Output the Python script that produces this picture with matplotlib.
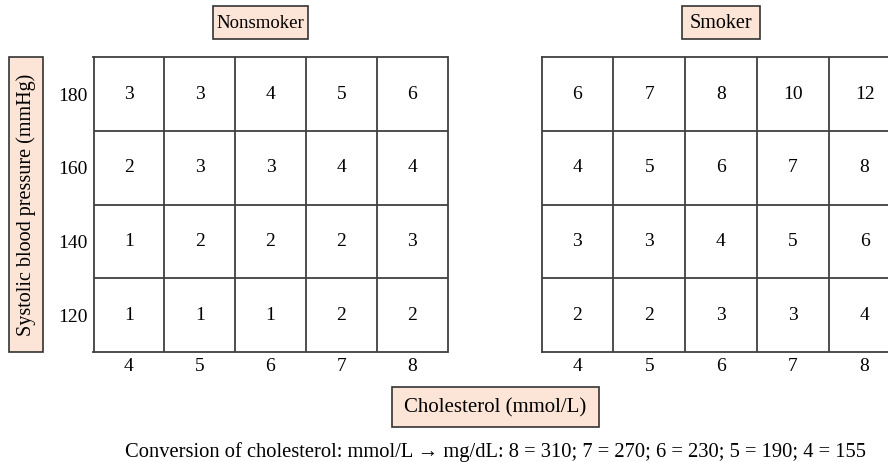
import matplotlib.pyplot as plt
from matplotlib.patches import Rectangle
import numpy as np

# Cholesterol (mmol/L) columns and systolic blood pressure (mmHg) rows
cholesterol = [4, 5, 6, 7, 8]
pressure = [120, 140, 160, 180]

# risk values, rows from 120 (bottom) to 180 (top)
nonsmoker = [[1, 1, 1, 2, 2],
             [1, 2, 2, 2, 3],
             [2, 3, 3, 4, 4],
             [3, 3, 4, 5, 6]]
smoker = [[2, 2, 3, 3, 4],
          [3, 3, 4, 5, 6],
          [4, 5, 6, 7, 8],
          [6, 7, 8, 10, 12]]

plt.rcParams['font.family'] = ['Liberation Serif', 'DejaVu Serif']

box_face = '#fce4d6'
box_edge = '#333333'
line_col = '#404040'
W, H = 888, 462

fig = plt.figure(figsize=(8.88, 4.62), dpi=100)
ax1 = fig.add_axes([93.5 / W, 1 - 352 / H, 354 / W, 294.5 / H])
ax2 = fig.add_axes([541.5 / W, 1 - 352 / H, 359 / W, 294.5 / H])


def draw_grid(ax, values, show_y):
    vals = np.array(values)
    ax.set_xlim(cholesterol[0] - 0.5, cholesterol[-1] + 0.5)
    ax.set_ylim(pressure[0] - 10, pressure[-1] + 10)
    ax.set_xticks(cholesterol)
    ax.set_yticks(pressure)
    # inner cell borders only, the spines draw the outside
    ax.set_xticks(np.arange(cholesterol[0] + 0.5, cholesterol[-1]), minor=True)
    ax.set_yticks(np.arange(pressure[0] + 10, pressure[-1], 20), minor=True)
    ax.grid(which='minor', color=line_col, linewidth=1.3)
    ax.tick_params(which='both', length=0, labelsize=14, pad=4)
    if not show_y:
        ax.set_yticklabels([])
    for s in ax.spines.values():
        s.set_color(line_col)
        s.set_linewidth(1.3)
    for i, p in enumerate(pressure):
        for j, c in enumerate(cholesterol):
            ax.text(c, p, str(vals[i, j]), ha='center', va='center', fontsize=14)


draw_grid(ax1, nonsmoker, True)
draw_grid(ax2, smoker, False)


def label_box(x0, y0, x1, y1, text, rotation=0, size=14.5):
    # box given in pixels from the top-left corner
    fig.add_artist(Rectangle((x0 / W, 1 - y1 / H), (x1 - x0) / W, (y1 - y0) / H,
                             transform=fig.transFigure, facecolor=box_face,
                             edgecolor=box_edge, linewidth=1.2))
    if rotation:
        fig.text((x0 + x1) / 2 / W, 1 - (y0 + y1) / 2 / H, text, rotation=rotation,
                 ha='center', va='center', fontsize=size)
    else:
        fig.text((x0 + x1) / 2 / W, 1 - ((y0 + y1) / 2 + 5.5) / H, text,
                 ha='center', va='baseline', fontsize=size)


label_box(213, 6, 308, 39, 'Nonsmoker', size=13.5)
label_box(682, 6, 760, 39, 'Smoker')
label_box(392, 387, 599, 427, 'Cholesterol (mmol/L)', size=15)
label_box(9, 57, 43, 352, 'Systolic blood pressure (mmHg)', rotation=90)

fig.text(495 / W, 1 - 452 / H,
         'Conversion of cholesterol: mmol/L \u2192 mg/dL: 8 = 310; 7 = 270; 6 = 230; 5 = 190; 4 = 155',
         ha='center', va='center', fontsize=14.8)

fig.savefig('out.png', dpi=100)
